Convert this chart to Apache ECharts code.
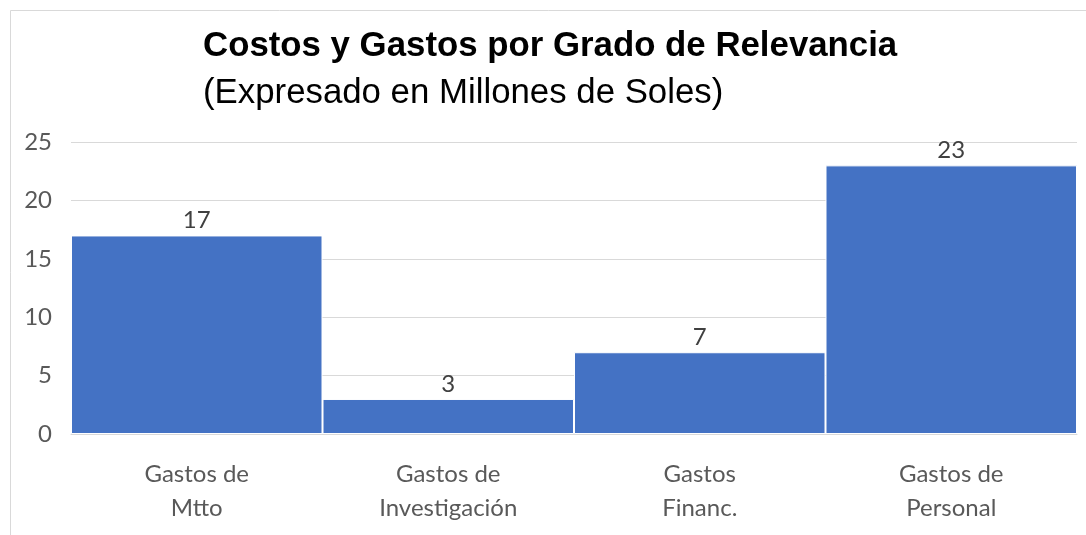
<!DOCTYPE html>
<html><head><meta charset="utf-8">
<script src="https://cdn.jsdelivr.net/npm/echarts@6/dist/echarts.min.js"></script>
<style>html,body{margin:0;padding:0;background:#fff}#c{width:1086px;height:535px}</style>
</head><body><div id="c"></div>
<script>
const categories = ['Gastos de\nMtto', 'Gastos de\nInvestigación', 'Gastos\nFinanc.', 'Gastos de\nPersonal'];
const values = [17, 3, 7, 23];
const yTicks = [0, 5, 10, 15, 20, 25];
const titleText = 'Costos y Gastos por Grado de Relevancia';
const subtitleText = '(Expresado en Millones de Soles)';

const chart = echarts.init(document.getElementById('c'), null, {renderer: 'canvas'});
chart.setOption({
  animation: false,
  backgroundColor: '#fff',
  graphic: [
    {type: 'polyline', shape: {points: [[10.5, 535], [10.5, 10.5], [1086, 10.5]]}, style: {stroke: '#d9d9d9', lineWidth: 1, fill: null}},
    {type: 'text', left: 203, top: 29, style: {text: titleText, font: 'bold 34.8px "Liberation Sans", Arial, sans-serif', fill: '#000'}},
    {type: 'text', left: 203, top: 76, style: {text: subtitleText, font: '34.8px "Liberation Sans", Arial, sans-serif', fill: '#000'}}
  ],
  grid: {left: 71, right: 9, top: 142, bottom: 101, containLabel: false},
  xAxis: {
    type: 'category', data: categories,
    axisLine: {show: true, lineStyle: {color: '#d9d9d9'}},
    axisTick: {show: false},
    axisLabel: {color: '#595959', fontSize: 24, fontFamily: 'Lato, sans-serif', lineHeight: 34, margin: 23}
  },
  yAxis: {
    type: 'value', min: yTicks[0], max: yTicks[yTicks.length - 1], interval: 5,
    axisLine: {show: false}, axisTick: {show: false},
    splitLine: {lineStyle: {color: '#d9d9d9'}},
    axisLabel: {color: '#595959', fontSize: 24, fontFamily: 'Lato, sans-serif', margin: 19}
  },
  series: [{
    type: 'bar', data: values, barCategoryGap: '0%',
    itemStyle: {color: '#4472C4', borderColor: '#fff', borderWidth: 1},
    label: {show: true, position: 'top', distance: 3, color: '#404040', fontSize: 24, fontFamily: 'Lato, sans-serif'}
  }]
});
</script></body></html>
